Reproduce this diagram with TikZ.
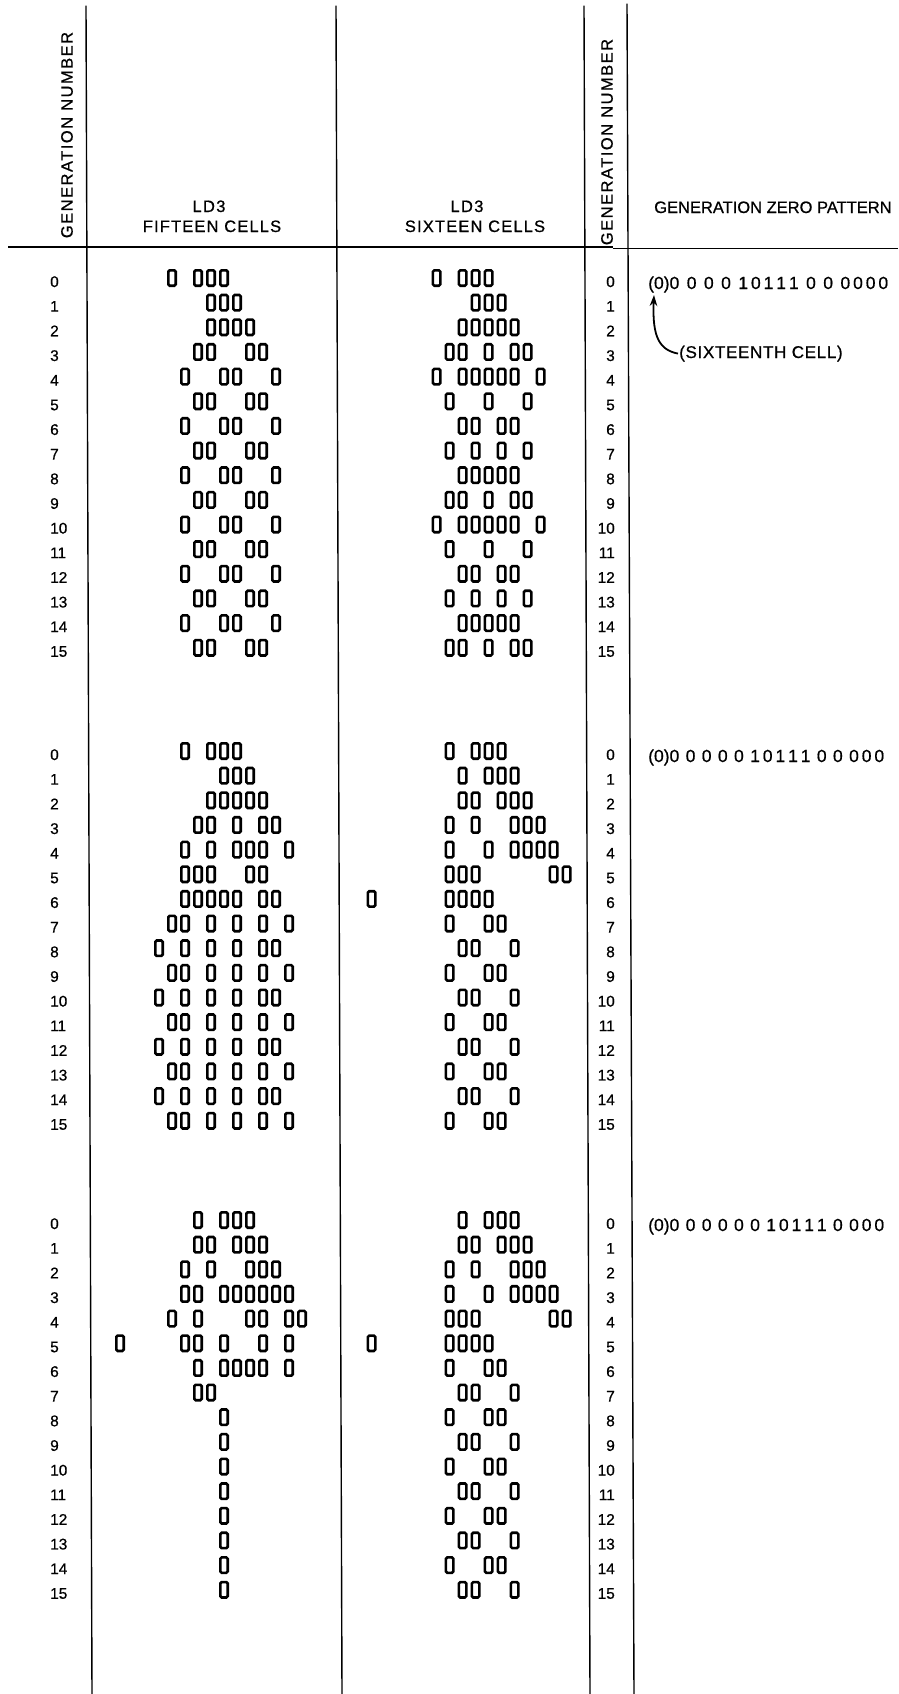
\documentclass[tikz,border=0pt]{standalone}
\usepackage{fontspec}
\setmainfont{Liberation Sans}
\newfontfamily\hfont{Liberation Sans}[FakeBold=0.7]
\usetikzlibrary{arrows.meta}
\tikzset{
  cellst/.style={line width=2.6pt, rounded corners=1.4pt},
  rulest/.style={line width=1.4pt, line cap=round},
  hrulest/.style={line width=1.9pt},
  hdr/.style={font=\hfont\fontsize{16.5}{18}\selectfont, inner sep=0pt},
  numl/.style={font=\hfont\fontsize{15.4}{16}\selectfont, anchor=base west, inner sep=0pt},
  numr/.style={font=\hfont\fontsize{15.4}{16}\selectfont, anchor=base east, inner sep=0pt},
  patst/.style={font=\hfont\fontsize{17.5}{19}\selectfont, anchor=base west, inner sep=0pt},
  arrst/.style={line width=1.8pt, -{Stealth[length=11pt,width=7.5pt]}}
}
\newcommand{\drawcellblock}[3]{%
  \foreach \r/\l in {#3}{%
    \foreach \c in \l {%
      \draw[cellst] ({#1+13*\c+1.3},{#2+24.65*\r-1.3}) rectangle ++(7.4,-15.4);
    }%
  }%
}
\begin{document}
\begin{tikzpicture}[x=1pt,y=-1pt]
\useasboundingbox (0,0) rectangle (898,1694);
\fill[white] (0,0) rectangle (898,1694);

% rules
\coordinate (l1t) at (86,6);   \coordinate (l1b) at (92,1694);
\coordinate (l2t) at (336,6);  \coordinate (l2b) at (342,1694);
\coordinate (l3t) at (584,6);  \coordinate (l3b) at (590,1694);
\coordinate (l4t) at (627,4);  \coordinate (l4b) at (634,1694);
\draw[rulest] (l1t) -- (l1b);
\draw[rulest] (l2t) -- (l2b);
\draw[rulest] (l3t) -- (l3b);
\draw[rulest] (l4t) -- (l4b);
\coordinate (hl) at (8,247); \coordinate (hm) at (613,247);
\coordinate (hm2) at (613,248.5); \coordinate (hr) at (898,248.5);
\draw[hrulest] (hl) -- (hm);
\draw[hrulest] (hm2) -- (hr);

% headers
\node[hdr, rotate=90] (gnl) at (67,135) {\addfontfeature{LetterSpace=9}GENERATION NUMBER};
\node[hdr, anchor=base] (ldA) at (209,212) {\addfontfeature{LetterSpace=8}LD3};
\node[hdr, anchor=base] (fif) at (212,232) {\addfontfeature{LetterSpace=7}FIFTEEN CELLS};
\node[hdr, anchor=base] (ldB) at (467,212) {\addfontfeature{LetterSpace=8}LD3};
\node[hdr, anchor=base] (six) at (475,232) {\addfontfeature{LetterSpace=7}SIXTEEN CELLS};
\node[hdr, rotate=90] (gnr) at (607,142) {\addfontfeature{LetterSpace=9}GENERATION NUMBER};
\node[hdr, anchor=base west] (gzp) at (654,213) {GENERATION ZERO PATTERN};

% row numbers
\foreach \r in {0,...,15}{
  \node[numl] (na\r) at (50,{287+24.65*\r}) {\r};
  \node[numr] (ra\r) at (615,{287+24.65*\r}) {\r};
  \node[numl] (nb\r) at (50,{760+24.65*\r}) {\r};
  \node[numr] (rb\r) at (615,{760+24.65*\r}) {\r};
  \node[numl] (nc\r) at (50,{1229+24.65*\r}) {\r};
  \node[numr] (rc\r) at (615,{1229+24.65*\r}) {\r};
}

% generation zero patterns
\node[patst] (pa) at (648,289) {\makebox[240pt][s]{(0)0 0 0 0 1\,0\,1\,1\,1 0 0 0\,0\,0\,0}};
\node[patst] (pb) at (648,762) {\makebox[236pt][s]{(0)0 0 0 0 0 1\,0\,1\,1\,1 0 0 0\,0\,0}};
\node[patst] (pc) at (648,1231) {\makebox[236pt][s]{(0)0 0 0 0 0 0 1\,0\,1\,1\,1 0 0\,0\,0}};

% sixteenth cell note
\node[anchor=base west, inner sep=0pt, font=\hfont\fontsize{17}{19}\selectfont] (lab) at (679,358) {\addfontfeature{LetterSpace=4}(SIXTEENTH CELL)};
\coordinate (tip) at (654,295);
\draw[arrst] ([xshift=-1pt]lab.west) .. controls (660,350) and (652,338) .. (tip);

% block 1, fifteen cells
\drawcellblock{115}{287}{0/{4,6,7,8},1/{7,8,9},2/{7,8,9,10},3/{6,7,10,11},4/{5,8,9,12},
 5/{6,7,10,11},6/{5,8,9,12},7/{6,7,10,11},8/{5,8,9,12},9/{6,7,10,11},10/{5,8,9,12},
 11/{6,7,10,11},12/{5,8,9,12},13/{6,7,10,11},14/{5,8,9,12},15/{6,7,10,11}}
% block 1, sixteen cells
\drawcellblock{366.6}{287}{0/{5,7,8,9},1/{8,9,10},2/{7,8,9,10,11},3/{6,7,9,11,12},
 4/{5,7,8,9,10,11,13},5/{6,9,12},6/{7,8,10,11},7/{6,8,10,12},8/{7,8,9,10,11},
 9/{6,7,9,11,12},10/{5,7,8,9,10,11,13},11/{6,9,12},12/{7,8,10,11},13/{6,8,10,12},
 14/{7,8,9,10,11},15/{6,7,9,11,12}}
% block 2, fifteen cells
\drawcellblock{115}{760}{0/{5,7,8,9},1/{8,9,10},2/{7,8,9,10,11},3/{6,7,9,11,12},
 4/{5,7,9,10,11,13},5/{5,6,7,10,11},6/{5,6,7,8,9,11,12},7/{4,5,7,9,11,13},
 8/{3,5,7,9,11,12},9/{4,5,7,9,11,13},10/{3,5,7,9,11,12},11/{4,5,7,9,11,13},
 12/{3,5,7,9,11,12},13/{4,5,7,9,11,13},14/{3,5,7,9,11,12},15/{4,5,7,9,11,13}}
% block 2, sixteen cells
\drawcellblock{366.6}{760}{0/{6,8,9,10},1/{7,9,10,11},2/{7,8,10,11,12},3/{6,8,11,12,13},
 4/{6,9,11,12,13,14},5/{6,7,8,14,15},6/{0,6,7,8,9},7/{6,9,10},8/{7,8,11},9/{6,9,10},
 10/{7,8,11},11/{6,9,10},12/{7,8,11},13/{6,9,10},14/{7,8,11},15/{6,9,10}}
% block 3, fifteen cells
\drawcellblock{115}{1229}{0/{6,8,9,10},1/{6,7,9,10,11},2/{5,7,10,11,12},3/{5,6,8,9,10,11,12,13},
 4/{4,6,10,11,13,14},5/{0,5,6,8,11,13},6/{6,8,9,10,11,13},7/{6,7},8/{8},9/{8},10/{8},
 11/{8},12/{8},13/{8},14/{8},15/{8}}
% block 3, sixteen cells
\drawcellblock{366.6}{1229}{0/{7,9,10,11},1/{7,8,10,11,12},2/{6,8,11,12,13},3/{6,9,11,12,13,14},
 4/{6,7,8,14,15},5/{0,6,7,8,9},6/{6,9,10},7/{7,8,11},8/{6,9,10},9/{7,8,11},10/{6,9,10},
 11/{7,8,11},12/{6,9,10},13/{7,8,11},14/{6,9,10},15/{7,8,11}}
\end{tikzpicture}
\end{document}
